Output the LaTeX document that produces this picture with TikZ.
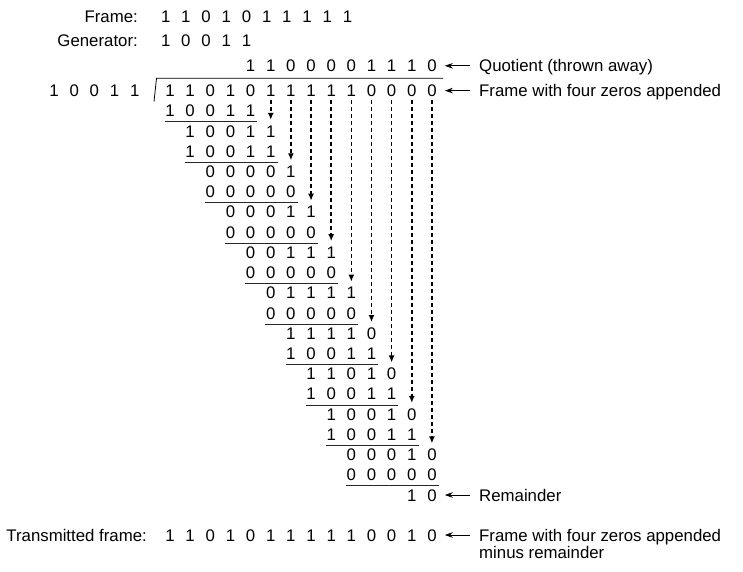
\documentclass[tikz,border=0pt]{standalone}
\usepackage{fontspec}
\setmainfont{Liberation Sans}
\usetikzlibrary{arrows.meta}
\newcommand\cw{20.15}
\newcommand\xo{170}
\newcommand\ro{90.6}
\newcommand\rs{20.22}
% row of digits: name, first column, row index, list
\newcommand\drow[4]{\foreach \dd [count=\i from #2] in {#4} {\node[dig] (#1-\i) at ({\xo+(\i-1)*\cw},{\ro+#3*\rs}) {\dd};}}
\begin{document}
\begin{tikzpicture}[x=1pt,y=-1pt,
  every node/.style={font=\fontsize{16.8}{18}\selectfont},
  dig/.style={inner sep=0pt,text height=12pt,text depth=0pt,minimum width=9.3pt},
  lbl/.style={inner sep=0pt,anchor=base west},
  rlbl/.style={inner sep=0pt,anchor=base east},
  uline/.style={line width=0.9pt,draw=black!85},
  drop/.style={line width=1.5pt,dash pattern=on 4.5pt off 2.5pt,-{Latex[length=7pt,width=6pt]},shorten <=3pt,shorten >=5pt},
  point/.style={line width=0.8pt,-{Stealth[length=8pt,width=5.5pt]},shorten <=9pt,shorten >=8pt}]
\useasboundingbox (0,0) rectangle (743,571);

% header
\node[rlbl] (flab) at (138,22.3) {Frame:};
\foreach \dd [count=\i] in {1,1,0,1,0,1,1,1,1,1} \node[dig] (fr-\i) at ({165.7+(\i-1)*20.2},16.3) {\dd};
\node[rlbl] (glab) at (138,46.5) {Generator:};
\foreach \dd [count=\i] in {1,0,0,1,1} \node[dig] (gen-\i) at ({165.7+(\i-1)*20.2},40.5) {\dd};

% quotient
\foreach \dd [count=\i from 5] in {1,1,0,0,0,0,1,1,1,0} \node[dig] (q-\i) at ({\xo+(\i-1)*\cw},65.8) {\dd};

% divisor
\foreach \dd [count=\i] in {1,0,0,1,1} \node[dig] (dsr-\i) at ({54+(\i-1)*20.2},\ro) {\dd};

% division bracket
\coordinate (vb) at (154,101.7);
\coordinate (vl) at (156.5,78.3);
\coordinate (vr) at (443,78.3);
\draw[line width=0.8pt] (vb) -- (vl) -- (vr);

% dividend and working rows
\drow{dv}{1}{0}{1,1,0,1,0,1,1,1,1,1,0,0,0,0}
\drow{r1}{1}{1}{1,0,0,1,1}
\drow{r2}{2}{2}{1,0,0,1,1}
\drow{r3}{2}{3}{1,0,0,1,1}
\drow{r4}{3}{4}{0,0,0,0,1}
\drow{r5}{3}{5}{0,0,0,0,0}
\drow{r6}{4}{6}{0,0,0,1,1}
\drow{r7}{4}{7}{0,0,0,0,0}
\drow{r8}{5}{8}{0,0,1,1,1}
\drow{r9}{5}{9}{0,0,0,0,0}
\drow{r10}{6}{10}{0,1,1,1,1}
\drow{r11}{6}{11}{0,0,0,0,0}
\drow{r12}{7}{12}{1,1,1,1,0}
\drow{r13}{7}{13}{1,0,0,1,1}
\drow{r14}{8}{14}{1,1,0,1,0}
\drow{r15}{8}{15}{1,0,0,1,1}
\drow{r16}{9}{16}{1,0,0,1,0}
\drow{r17}{9}{17}{1,0,0,1,1}
\drow{r18}{10}{18}{0,0,0,1,0}
\drow{r19}{10}{19}{0,0,0,0,0}
\drow{r20}{13}{20}{1,0}

% underlines
\foreach \k/\a/\b in {1/1/5,3/2/6,5/3/7,7/4/8,9/5/9,11/6/10,13/7/11,15/8/12,17/9/13,19/10/14}
  \draw[uline] ([xshift=-0.4pt,yshift=-4.9pt]r\k-\a.south west) -- ([xshift=1.9pt,yshift=-4.9pt]r\k-\b.south east);

% bring-down arrows
\foreach \c in {6,...,14}{
  \pgfmathtruncatemacro\t{2*(\c-5)}
  \draw[drop] (dv-\c.south) -- (r\t-\c.north);
}

% transmitted frame
\node[rlbl] (tlab) at (147,541) {Transmitted frame:};
\foreach \dd [count=\i] in {1,1,0,1,0,1,1,1,1,1,0,0,1,0} \node[dig] (t-\i) at ({\xo+(\i-1)*\cw},535) {\dd};

% right labels
\node[lbl] (qlab) at (479,71.8) {Quotient (thrown away)};
\node[lbl] (dlab) at (479,96.6) {Frame with four zeros appended};
\node[lbl] (rlab) at (479,501.6) {Remainder};
\node[lbl] (tlab1) at (479,541) {Frame with four zeros appended};
\node[lbl] (tlab2) at (479,558.5) {minus remainder};

\draw[point] (qlab.west |- q-14.east) -- (q-14.east);
\draw[point] (dlab.west |- dv-14.east) -- (dv-14.east);
\draw[point] (rlab.west |- r20-14.east) -- (r20-14.east);
\draw[point] (tlab1.west |- t-14.east) -- (t-14.east);
\end{tikzpicture}
\end{document}
